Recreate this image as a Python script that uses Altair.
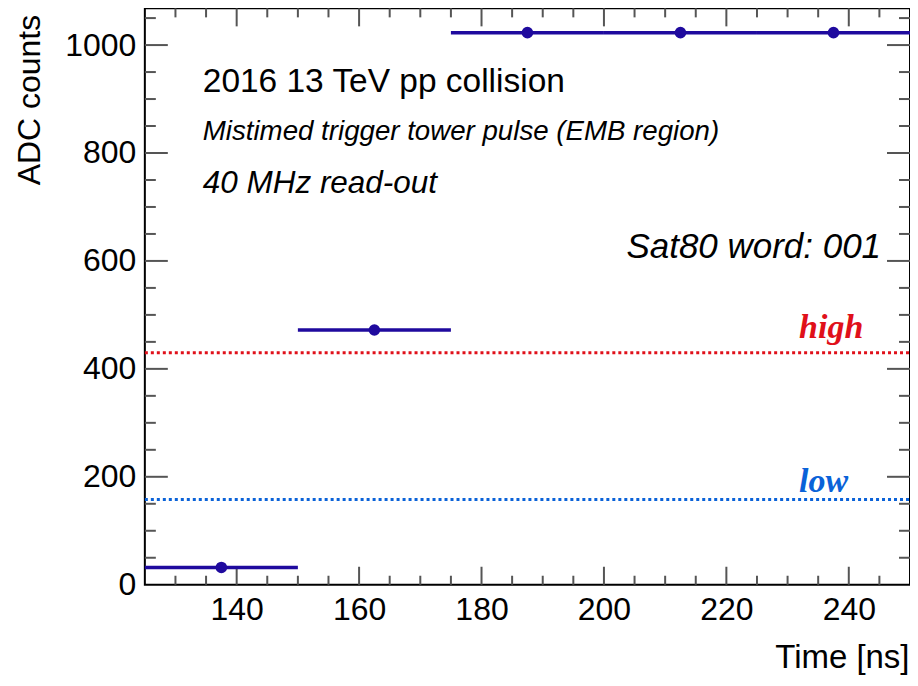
import altair as alt
import pandas as pd

# ---- data ----
time_ns = [137.5, 162.5, 187.5, 212.5, 237.5]
adc_counts = [32, 472, 1023, 1023, 1023]
time_halfwidth = [12.5, 12.5, 12.5, 12.5, 12.5]

threshold_names = ["high", "low"]
threshold_values = [430, 158]

x_major = [140, 160, 180, 200, 220, 240]
x_minor = [130, 135, 145, 150, 155, 165, 170, 175, 185, 190, 195,
           205, 210, 215, 225, 230, 235, 245]
y_major = [0, 200, 400, 600, 800, 1000]
y_minor = [50, 100, 150, 250, 300, 350, 450, 500, 550, 650, 700, 750,
           850, 900, 950, 1050]

text_lines = ["2016 13 TeV pp collision",
              "Mistimed trigger tower pulse (EMB region)",
              "40 MHz read-out"]
sat_text = "Sat80 word: 001"

W, H = 766, 577
LEFT = 137
XDOM = [125, 250]
YDOM = [0, 1068]
FONT = "Liberation Sans"
DATA_COLOR = "#1f0a9e"
TICK_COLOR = "#555555"

df = pd.DataFrame({"t": time_ns, "adc": adc_counts, "hw": time_halfwidth})

xs = alt.Scale(domain=XDOM, nice=False, zero=False)
ys = alt.Scale(domain=YDOM, nice=False, zero=False)

x_axis = alt.Axis(values=x_major, ticks=False, domain=False, grid=False,
                  labelFont=FONT, labelFontSize=32, labelColor="black",
                  labelPadding=10, labelFlush=False, format="d",
                  title="Time [ns]", titleFont=FONT, titleFontSize=33,
                  titleFontWeight="normal", titleColor="black",
                  titleAnchor="end", titleAlign="right", titleX=W - 1, titleY=83,
                  titleBaseline="alphabetic")
y_axis = alt.Axis(values=y_major, ticks=False, domain=False, grid=False,
                  labelFont=FONT, labelFontSize=32, labelColor="black",
                  labelPadding=9, labelFlush=False, format="d",
                  title="ADC counts", titleFont=FONT, titleFontSize=32,
                  titleAngle=-90, titleAlign="right", titleX=-(LEFT - 32), titleY=6,
                  titleFontWeight="normal", titleColor="black",
                  titleBaseline="alphabetic")

base = alt.Chart(df)

errbars = base.transform_calculate(
    lo="datum.t - datum.hw", hi="datum.t + datum.hw"
).mark_rule(color=DATA_COLOR, strokeWidth=3.5).encode(
    x=alt.X("lo:Q", scale=xs, axis=x_axis),
    x2="hi:Q",
    y=alt.Y("adc:Q", scale=ys, axis=y_axis),
)
points = base.mark_circle(color=DATA_COLOR, size=135, opacity=1).encode(
    x=alt.X("t:Q", scale=xs), y=alt.Y("adc:Q", scale=ys)
)

thr = pd.DataFrame({"name": threshold_names, "v": threshold_values})
thr_lines = alt.Chart(thr).mark_rule(strokeDash=[3, 3], strokeWidth=3).encode(
    y=alt.Y("v:Q", scale=ys),
    x=alt.value(0), x2=alt.value(W),
    color=alt.Color("name:N", scale=alt.Scale(domain=["high", "low"],
                                              range=["#e0101a", "#0a62d8"]),
                    legend=None),
)
high_lbl = alt.Chart(thr[thr.name == "high"]).mark_text(
    font="Liberation Serif", fontSize=34, fontWeight="bold", fontStyle="italic",
    align="left", baseline="alphabetic", dy=-15, color="#e0101a"
).encode(y=alt.Y("v:Q", scale=ys), x=alt.value(655), text="name:N")
low_lbl = alt.Chart(thr[thr.name == "low"]).mark_text(
    font="Liberation Serif", fontSize=34, fontWeight="bold", fontStyle="italic",
    align="left", baseline="alphabetic", dy=-7, color="#0a62d8"
).encode(y=alt.Y("v:Q", scale=ys), x=alt.value(655), text="name:N")

# ---- ticks (inward, ROOT style) ----
def vticks(vals, length, top):
    d = pd.DataFrame({"v": vals})
    if top:
        enc = dict(y=alt.value(0), y2=alt.value(length))
    else:
        enc = dict(y=alt.value(H), y2=alt.value(H - length))
    return alt.Chart(d).mark_rule(color=TICK_COLOR, strokeWidth=2).encode(
        x=alt.X("v:Q", scale=xs), **enc)

def hticks(vals, length, right):
    d = pd.DataFrame({"v": vals})
    if right:
        enc = dict(x=alt.value(W), x2=alt.value(W - length))
    else:
        enc = dict(x=alt.value(0), x2=alt.value(length))
    return alt.Chart(d).mark_rule(color=TICK_COLOR, strokeWidth=2).encode(
        y=alt.Y("v:Q", scale=ys), **enc)

ticks = [
    vticks(x_major, 18, False), vticks(x_minor, 9, False),
    vticks(x_major, 18, True), vticks(x_minor, 9, True),
    hticks([v for v in y_major if v > 0], 23, False), hticks(y_minor, 11, False),
    hticks([v for v in y_major if v > 0], 23, True), hticks(y_minor, 11, True),
]

# ---- annotation text ----
t1 = alt.Chart(pd.DataFrame({"line": [text_lines[0]]})).mark_text(
    font=FONT, fontSize=33.5, align="left", baseline="alphabetic", color="black"
).encode(x=alt.value(58), y=alt.value(84), text="line:N")
t2 = alt.Chart(pd.DataFrame({"line": [text_lines[1]]})).mark_text(
    font=FONT, fontSize=27.7, fontStyle="italic", align="left",
    baseline="alphabetic", color="black"
).encode(x=alt.value(58), y=alt.value(132), text="line:N")
t3 = alt.Chart(pd.DataFrame({"line": [text_lines[2]]})).mark_text(
    font=FONT, fontSize=31.5, fontStyle="italic", align="left",
    baseline="alphabetic", color="black"
).encode(x=alt.value(58), y=alt.value(185), text="line:N")
t4 = alt.Chart(pd.DataFrame({"s": [sat_text]})).mark_text(
    font=FONT, fontSize=35, fontStyle="italic", align="right",
    baseline="alphabetic", color="black"
).encode(x=alt.value(737), y=alt.value(250), text="s:N")

chart = alt.layer(
    *ticks, thr_lines, errbars, points, high_lbl, low_lbl, t1, t2, t3, t4
).properties(
    width=W, height=H,
    padding={"left": LEFT, "top": 0, "right": 0, "bottom": 92},
    autosize="none",
).configure_view(stroke="black", strokeWidth=2)

chart.save("out.html", embed_options={"renderer": "svg", "actions": False})
